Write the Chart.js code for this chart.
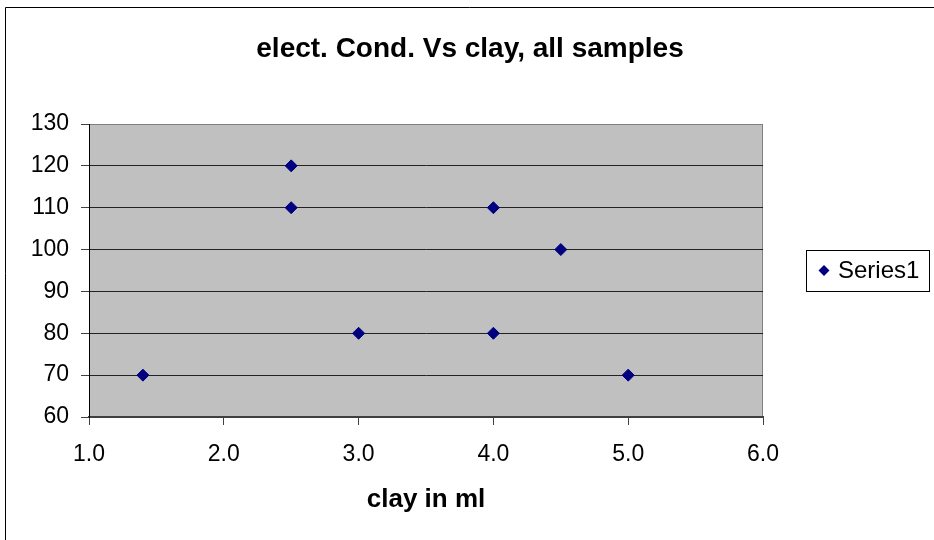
<!DOCTYPE html>
<html lang="en">
<head>
    <meta charset="UTF-8">
    <title>elect. Cond. Vs clay</title>
    <script src="https://cdn.jsdelivr.net/npm/chart.js@4.4.0/dist/chart.umd.min.js"></script>
    <style>
        html, body { margin: 0; padding: 0; background: #fff; }
        #wrap { width: 934px; height: 540px; }
    </style>
</head>
<body>
    <div id="wrap"><canvas id="condChart"></canvas></div>

    <script>
        const chartTitle = 'elect. Cond. Vs clay, all samples';
        const xTitle = 'clay in ml';
        const seriesName = 'Series1';

        // clay (ml) and electrical conductivity per sample
        const clayMl = [1.4, 2.5, 2.5, 3.0, 4.0, 4.0, 4.5, 5.0];
        const conductivity = [70, 120, 110, 80, 110, 80, 100, 70];

        const xTicks = [1, 2, 3, 4, 5, 6];
        const yTicks = [60, 70, 80, 90, 100, 110, 120, 130];

        const FONT = '"Liberation Sans", Arial, sans-serif';
        const MARKER = '#000080';

        // grey plot area, outer frame, title and the boxed legend
        const excelLook = {
            id: 'excelLook',
            beforeDraw(chart) {
                const { ctx, chartArea: a } = chart;
                ctx.save();
                ctx.fillStyle = '#c0c0c0';
                ctx.fillRect(a.left, a.top, a.right - a.left, a.bottom - a.top);
                ctx.strokeStyle = '#808080';
                ctx.lineWidth = 1;
                ctx.strokeRect(a.left + 0.5, a.top + 0.5, a.right - a.left - 1, a.bottom - a.top);
                ctx.restore();
            },
            afterDraw(chart) {
                const { ctx, width } = chart;
                ctx.save();
                ctx.strokeStyle = '#000';
                ctx.lineWidth = 1;
                ctx.beginPath();
                ctx.moveTo(5.5, chart.height);
                ctx.lineTo(5.5, 7.5);
                ctx.lineTo(width, 7.5);
                ctx.stroke();

                ctx.fillStyle = '#000';
                ctx.font = 'bold 28px ' + FONT;
                ctx.textAlign = 'center';
                ctx.textBaseline = 'middle';
                ctx.fillText(chartTitle, 470, 49);

                // legend
                const lx = 806, ly = 250, lw = 123, lh = 41;
                ctx.fillStyle = '#fff';
                ctx.fillRect(lx, ly, lw, lh);
                ctx.strokeStyle = '#000';
                ctx.strokeRect(lx + 0.5, ly + 0.5, lw, lh);
                const ds = chart.data.datasets[0];
                const mx = 824, my = ly + lh / 2;
                ctx.fillStyle = ds.backgroundColor;
                ctx.beginPath();
                ctx.moveTo(mx, my - 5.5);
                ctx.lineTo(mx + 5.5, my);
                ctx.lineTo(mx, my + 5.5);
                ctx.lineTo(mx - 5.5, my);
                ctx.closePath();
                ctx.fill();
                ctx.fillStyle = '#000';
                ctx.font = '24px ' + FONT;
                ctx.textAlign = 'left';
                ctx.fillText(ds.label, 838, my + 1);
                ctx.restore();
            }
        };

        new Chart(document.getElementById('condChart'), {
            type: 'scatter',
            data: {
                datasets: [{
                    label: seriesName,
                    data: clayMl.map((x, i) => ({ x: x, y: conductivity[i] })),
                    backgroundColor: MARKER,
                    borderColor: MARKER,
                    borderWidth: 1,
                    pointStyle: 'rectRot',
                    pointRadius: 6,
                    pointHoverRadius: 6
                }]
            },
            options: {
                responsive: true,
                maintainAspectRatio: false,
                animation: false,
                events: [],
                layout: { padding: { left: 0, top: 124, right: 171, bottom: 0 } },
                plugins: {
                    legend: { display: false },
                    title: { display: false },
                    tooltip: { enabled: false }
                },
                scales: {
                    x: {
                        type: 'linear',
                        min: 1,
                        max: 6,
                        afterFit(scale) { scale.height = 123; },
                        afterBuildTicks(scale) { scale.ticks = xTicks.map(v => ({ value: v })); },
                        ticks: {
                            color: '#000',
                            padding: 16,
                            font: { family: FONT, size: 23 },
                            callback: v => Number(v).toFixed(1)
                        },
                        grid: { drawOnChartArea: false, tickLength: 8, color: '#404040' },
                        border: { color: '#404040', width: 2 },
                        title: {
                            display: true,
                            text: xTitle,
                            color: '#000',
                            font: { family: FONT, size: 26, weight: 'bold' },
                            padding: { top: 0, bottom: 25 }
                        }
                    },
                    y: {
                        min: 60,
                        max: 130,
                        afterFit(scale) { scale.width = 89; },
                        afterBuildTicks(scale) { scale.ticks = yTicks.map(v => ({ value: v })); },
                        ticks: {
                            color: '#000',
                            padding: 12,
                            font: { family: FONT, size: 23 }
                        },
                        grid: {
                            tickLength: 8,
                            color: ctx => (ctx.tick && ctx.tick.value === 130) ? '#808080' : '#222',
                            tickColor: '#404040'
                        },
                        border: { color: '#000', width: 1 }
                    }
                }
            },
            plugins: [excelLook]
        });
    </script>
</body>
</html>
